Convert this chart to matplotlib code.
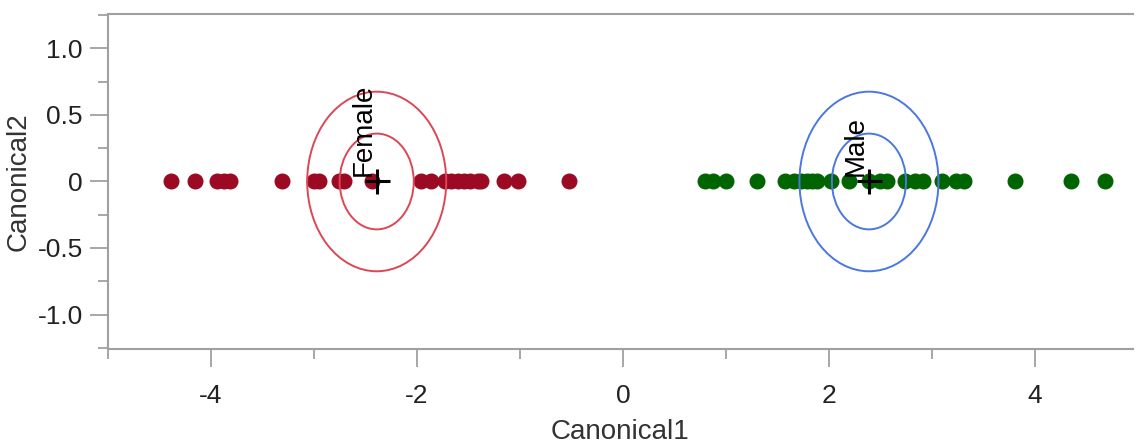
import numpy as np
import matplotlib
matplotlib.use('Agg')
import matplotlib.pyplot as plt
from matplotlib.patches import Ellipse
from matplotlib.ticker import MultipleLocator

# canonical scores (Canonical2 is zero for every point)
female_x = [-4.39, -4.15, -3.94, -3.87, -3.81, -3.31, -3.00, -2.95, -2.76, -2.71,
            -2.44, -1.96, -1.86, -1.73, -1.67, -1.60, -1.54, -1.48, -1.41, -1.38,
            -1.15, -1.02, -0.52]
male_x = [0.80, 0.88, 1.00, 1.30, 1.57, 1.66, 1.73, 1.79, 1.84, 1.89,
          2.02, 2.20, 2.39, 2.50, 2.57, 2.74, 2.84, 2.91, 3.10, 3.24,
          3.31, 3.81, 4.35, 4.68]
groups = ['Female', 'Male']
centroids = [(-2.39, 0.0), (2.39, 0.0)]
radii = [0.36, 0.675]

point_colors = ['#9b0a22', '#006400']
ring_colors = ['#dc4655', '#4a78e0']

plt.rcParams['font.family'] = ['Liberation Sans', 'DejaVu Sans']

fig = plt.figure(figsize=(11.36, 4.47), dpi=100)
ax = fig.add_axes([0.095, 0.219, 0.902, 0.75])

for xs, col in zip([female_x, male_x], point_colors):
    ax.plot(xs, np.zeros(len(xs)), 'o', color=col, markersize=10.5, zorder=2)

for name, (cx, cy), rc in zip(groups, centroids, ring_colors):
    for r in radii:
        ax.add_patch(Ellipse((cx, cy), 2 * r, 2 * r, fill=False,
                             edgecolor=rc, linewidth=1.4, zorder=3))
    ax.plot(cx, cy, '+', color='black', markersize=18, mew=2.2, zorder=4)
    ax.text(cx, cy + 0.04, name, rotation=90, ha='right', va='bottom',
            fontsize=20, color='black', zorder=5)

ax.set_xlim(-5.0, 4.95)
ax.set_ylim(-1.26, 1.26)
ax.set_xticks([-4, -2, 0, 2, 4])
ax.set_xticklabels(['-4', '-2', '0', '2', '4'])
ax.set_yticks([-1.0, -0.5, 0, 0.5, 1.0])
ax.set_yticklabels(['-1.0', '-0.5', '0', '0.5', '1.0'])
ax.xaxis.set_minor_locator(MultipleLocator(1))
ax.yaxis.set_minor_locator(MultipleLocator(0.25))

ax.tick_params(which='major', length=13, width=1.3, color='#a0a0a0',
               labelsize=19, labelcolor='#222222')
ax.tick_params(axis='x', which='major', pad=12)
ax.tick_params(axis='y', which='major', pad=5)
ax.tick_params(which='minor', length=7, width=1.3, color='#a0a0a0')

for side in ['left', 'bottom', 'top']:
    ax.spines[side].set_color('#a0a0a0')
    ax.spines[side].set_linewidth(1.5)
ax.spines['right'].set_visible(False)

ax.set_xlabel('Canonical1', fontsize=20, color='#333333', labelpad=8)
ax.set_ylabel('Canonical2', fontsize=20, color='#333333')
ax.yaxis.set_label_coords(-0.074, 0.5)

fig.savefig('out.png', dpi=100)
